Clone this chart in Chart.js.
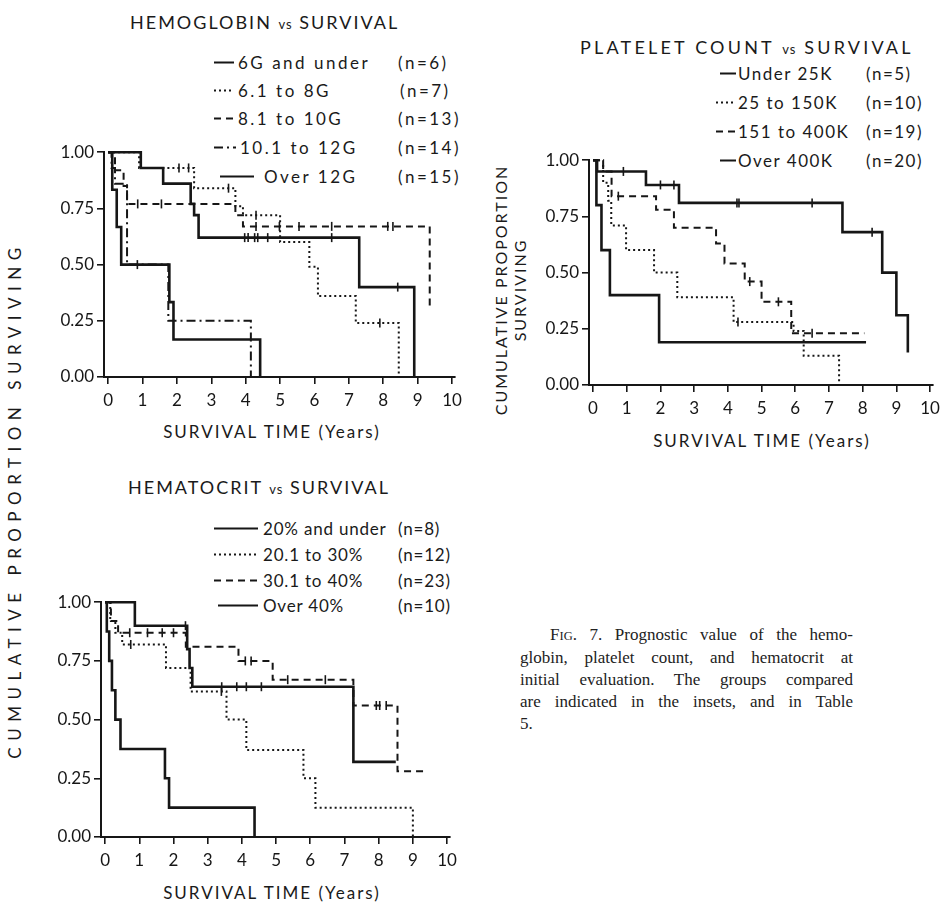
<!DOCTYPE html>
<html>
<head>
<meta charset="utf-8">
<title>Prognostic value of hemoglobin, platelet count and hematocrit</title>
<script src="https://cdn.jsdelivr.net/npm/chart.js@4.4.1/dist/chart.umd.min.js"></script>
<style>
    html, body { margin: 0; padding: 0; background: #fff; }
    body {
        position: relative; width: 946px; height: 905px; overflow: hidden;
        font-family: Lato, "Noto Sans", sans-serif; color: #1a1a1a;
    }
    .abs { position: absolute; white-space: nowrap; }
    .title { font-size: 18px; letter-spacing: 2px; transform: translateY(-50%); }
    .title small { font-size: 13px; letter-spacing: 1px; }
    .xtitle { position: absolute; white-space: nowrap; font-size: 17px; letter-spacing: 2px; transform: translate(-50%, -50%); }
    .leg { position: absolute; white-space: nowrap; font-size: 17px; letter-spacing: 1.5px; transform: translateY(-50%); }
    .leg svg { position: absolute; top: 50%; margin-top: -3px; }
    .chart-wrap { position: absolute; }
    .rot { position: absolute; white-space: nowrap; transform: translate(-50%, -50%) rotate(-90deg); font-size: 16px; letter-spacing: 2px; }
    .caption {
        position: absolute; left: 520px; top: 624px; width: 333px;
        font-family: "Liberation Serif", "DejaVu Serif", serif; font-size: 17px; line-height: 22px; color: #222;
    }
    .caption div { text-align: justify; text-align-last: justify; }
    .caption div.last { text-align-last: left; }
    .caption .sc { font-size: 12.5px; }
</style>
</head>
<body>

<div class="abs title" style="left:130px; top:22px;">HEMOGLOBIN <small>vs</small> SURVIVAL</div>
<div class="abs title" style="left:580px; top:47px; letter-spacing:3.2px;">PLATELET COUNT <small>vs</small> SURVIVAL</div>
<div class="abs title" style="left:128px; top:487px;">HEMATOCRIT <small>vs</small> SURVIVAL</div>

<div id="legends"></div>

<div class="rot" style="left:14px; top:500px; font-size:17px; letter-spacing:6.5px;">CUMULATIVE PROPORTION SURVIVING</div>
<div class="rot" style="left:500px; top:290px;">CUMULATIVE PROPORTION</div>
<div class="rot" style="left:519px; top:290px;">SURVIVING</div>

<div class="chart-wrap" style="left:54px; top:139px; width:414px; height:270px;"><canvas id="hgbChart"></canvas></div>
<div class="chart-wrap" style="left:539px; top:147px; width:407px; height:270px;"><canvas id="pltChart"></canvas></div>
<div class="chart-wrap" style="left:51px; top:589px; width:412px; height:280px;"><canvas id="hctChart"></canvas></div>

<div class="xtitle" style="left:272px; top:431px;">SURVIVAL TIME (Years)</div>
<div class="xtitle" style="left:762px; top:440px;">SURVIVAL TIME (Years)</div>
<div class="xtitle" style="left:272px; top:892px;">SURVIVAL TIME (Years)</div>

<div class="caption">
    <div style="padding-left:30px;">F<span class="sc">IG</span>. 7. Prognostic value of the hemo-</div>
    <div>globin, platelet count, and hematocrit at</div>
    <div>initial evaluation. The groups compared</div>
    <div>are indicated in the insets, and in Table</div>
    <div class="last">5.</div>
</div>

<script>
const INK = "#161616";
const FONT = "Lato, 'Noto Sans', sans-serif";

const SOLID = [];
const DOT = [2, 3];
const DASH = [7, 5];
const DASHDOT = [9, 4, 2, 4];

const X_TICKS = [0, 1, 2, 3, 4, 5, 6, 7, 8, 9, 10];
const Y_TICKS = [0, 0.25, 0.5, 0.75, 1];

// ── Hemoglobin (time in years, cumulative proportion surviving) ──
const hgbLabels = ["6G and under", "6.1 to 8G", "8.1 to 10G", "10.1 to 12G", "Over 12G"];
const hgbN = ["(n=6)", "(n=7)", "(n=13)", "(n=14)", "(n=15)"];
const hgb6G = [[0, 1], [0.12, 0.833], [0.25, 0.667], [0.38, 0.5], [1.78, 0.333], [1.9, 0.167], [4.42, 0]];
const hgb6GCens = [0.85];
const hgb8G = [[0, 1], [0.9, 0.93], [2.5, 0.84], [3.7, 0.76], [3.92, 0.72], [5.0, 0.6], [5.85, 0.49], [6.1, 0.36], [7.2, 0.24], [8.45, 0]];
const hgb8GCens = [2.06, 2.34, 3.5, 4.3, 7.9];
const hgb10G = [[0, 1], [0.2, 0.92], [0.45, 0.85], [0.55, 0.77], [3.7, 0.72], [3.92, 0.67], [9.35, 0.31]];
const hgb10GCens = [0.86, 1.55, 4.3, 4.98, 5.55, 6.5, 8.13, 8.28];
const hgb12G = [[0, 1], [0.1, 0.93], [0.2, 0.86], [0.55, 0.5], [1.75, 0.25], [4.15, 0]];
const hgb12GCens = [];
const hgbOver = [[0, 1], [0.95, 0.93], [1.6, 0.86], [2.4, 0.77], [2.5, 0.72], [2.63, 0.62], [7.3, 0.4], [8.9, 0]];
const hgbOverCens = [3.97, 4.07, 4.26, 4.35, 4.64, 6.5, 8.42];

// ── Platelet count ──
const pltLabels = ["Under 25K", "25 to 150K", "151 to 400K", "Over 400K"];
const pltN = ["(n=5)", "(n=10)", "(n=19)", "(n=20)"];
const pltU25 = [[0, 1], [0.1, 0.8], [0.25, 0.6], [0.5, 0.4], [1.96, 0.19], [8.1, 0.19]];
const pltU25Cens = [];
const plt150 = [[0, 1], [0.3, 0.9], [0.45, 0.82], [0.54, 0.71], [0.98, 0.6], [1.81, 0.5], [2.5, 0.39], [4.17, 0.28], [5.95, 0.24], [6.25, 0.13], [7.3, 0]];
const plt150Cens = [4.3];
const plt400 = [[0, 1], [0.3, 0.95], [0.55, 0.84], [1.87, 0.78], [2.4, 0.7], [3.65, 0.63], [3.9, 0.54], [4.5, 0.46], [5.0, 0.37], [5.88, 0.23], [8.05, 0.23]];
const plt400Cens = [0.75, 4.65, 5.5, 6.5];
const pltOver = [[0, 1], [0.12, 0.95], [1.57, 0.89], [2.55, 0.81], [7.4, 0.68], [8.58, 0.5], [9.0, 0.31], [9.34, 0.145]];
const pltOverCens = [0.9, 2.0, 2.4, 4.27, 4.33, 6.5, 8.28];

// ── Hematocrit ──
const hctLabels = ["20% and under", "20.1 to 30%", "30.1 to 40%", "Over 40%"];
const hctN = ["(n=8)", "(n=12)", "(n=23)", "(n=10)"];
const hct20 = [[0, 1], [0.05, 0.875], [0.12, 0.75], [0.2, 0.625], [0.3, 0.5], [0.45, 0.375], [1.75, 0.25], [1.87, 0.125], [4.37, 0]];
const hct20Cens = [];
const hct30 = [[0, 1], [0.15, 0.92], [0.3, 0.87], [0.5, 0.82], [1.78, 0.72], [2.5, 0.62], [3.55, 0.5], [4.13, 0.37], [5.8, 0.25], [6.15, 0.125], [9.0, 0]];
const hct30Cens = [0.75, 3.4];
const hct40 = [[0, 1], [0.17, 0.92], [0.38, 0.87], [2.36, 0.81], [3.9, 0.75], [4.9, 0.67], [7.26, 0.56], [8.55, 0.28], [9.33, 0.28]];
const hct40Cens = [0.72, 1.24, 1.67, 2.0, 4.1, 4.27, 5.34, 6.44, 7.93, 8.03, 8.22];
const hctOver = [[0, 1], [0.87, 0.9], [2.4, 0.8], [2.47, 0.72], [2.55, 0.64], [7.26, 0.32], [8.5, 0.32]];
const hctOverCens = [2.35, 3.41, 3.85, 4.13, 4.57];

// ── Helpers ──

function survAt(pts, t) {
    let s = pts[0][1];
    for (const [x, y] of pts) if (x <= t) s = y;
    return s;
}

function dashAttr(dash) {
    return dash.length ? dash.join(",") : "none";
}

function addLegend(labels, ns, dashes, rows, spacing) {
    const host = document.getElementById("legends");
    labels.forEach((label, i) => {
        const r = rows[i];
        const w = r.sample[1] - r.sample[0];
        const svg = `<svg width="${w}" height="6" style="left:${r.sample[0] - r.text}px">` +
            `<line x1="0" y1="3" x2="${w}" y2="3" stroke="${INK}" stroke-width="2" stroke-dasharray="${dashAttr(dashes[i])}"/></svg>`;
        const row = document.createElement("div");
        row.className = "leg";
        row.style.left = r.text + "px";
        row.style.top = r.y + "px";
        row.style.letterSpacing = spacing + "px";
        row.innerHTML = svg + `<span>${label}</span><span style="position:absolute; left:${r.n - r.text}px">${ns[i]}</span>`;
        host.appendChild(row);
    });
}

// Kaplan-Meier style step curves: horizontal at the old level, then drop
function kmChart(canvasId, curves, dashes, censors) {
    const datasets = [];
    curves.forEach((pts, i) => {
        datasets.push({
            data: pts.map(([x, y]) => ({ x, y })),
            stepped: "before",
            borderColor: INK,
            borderWidth: dashes[i].length ? 2 : 2.6,
            borderDash: dashes[i],
            pointRadius: 0,
            fill: false,
            clip: false,
        });
        if (censors[i].length) {
            datasets.push({
                data: censors[i].map((t) => ({ x: t, y: survAt(pts, t) })),
                showLine: false,
                pointStyle: "line",
                pointRotation: 90,
                pointRadius: 4.5,
                pointBorderWidth: 1.6,
                pointBorderColor: INK,
                clip: false,
            });
        }
    });

    const tickFont = { size: 17, family: FONT };
    const axisGrid = { drawOnChartArea: false, drawTicks: true, tickLength: 7, color: INK, lineWidth: 1.6 };
    const axisBorder = { display: true, color: INK, width: 2 };

    return new Chart(document.getElementById(canvasId), {
        type: "line",
        data: { datasets },
        options: {
            responsive: true,
            maintainAspectRatio: false,
            devicePixelRatio: 1,
            animation: false,
            events: [],
            layout: { padding: { top: 8, right: 8, left: 0, bottom: 0 } },
            plugins: { legend: { display: false }, tooltip: { enabled: false } },
            scales: {
                x: {
                    type: "linear",
                    bounds: "data",
                    min: -0.12,
                    max: 10.08,
                    afterBuildTicks: (axis) => { axis.ticks = X_TICKS.map((v) => ({ value: v })); },
                    ticks: { color: INK, font: tickFont, padding: 6, maxRotation: 0, autoSkip: false },
                    grid: axisGrid,
                    border: axisBorder,
                    afterFit: (axis) => { axis.height = 32; },
                },
                y: {
                    type: "linear",
                    min: 0,
                    max: 1,
                    afterBuildTicks: (axis) => { axis.ticks = Y_TICKS.map((v) => ({ value: v })); },
                    ticks: { color: INK, font: tickFont, padding: 3, callback: (v) => v.toFixed(2) },
                    grid: axisGrid,
                    border: axisBorder,
                    afterFit: (axis) => { axis.width = 50; },
                },
            },
        },
    });
}

// ── Build ──

const hgbDashes = [SOLID, DOT, DASH, DASHDOT, SOLID];
kmChart("hgbChart", [hgb6G, hgb8G, hgb10G, hgb12G, hgbOver], hgbDashes,
    [hgb6GCens, hgb8GCens, hgb10GCens, hgb12GCens, hgbOverCens]);
addLegend(hgbLabels, hgbN, hgbDashes, [
    { y: 62, sample: [214, 234], text: 238, n: 398 },
    { y: 90, sample: [214, 234], text: 238, n: 400 },
    { y: 118, sample: [214, 234], text: 238, n: 398 },
    { y: 147, sample: [214, 236], text: 240, n: 398 },
    { y: 176, sample: [220, 254], text: 264, n: 398 },
], 2.5);

const pltDashes = [SOLID, DOT, DASH, SOLID];
kmChart("pltChart", [pltU25, plt150, plt400, pltOver], pltDashes,
    [pltU25Cens, plt150Cens, plt400Cens, pltOverCens]);
addLegend(pltLabels, pltN, pltDashes, [
    { y: 73, sample: [720, 736], text: 738, n: 866 },
    { y: 102, sample: [716, 736], text: 738, n: 866 },
    { y: 131, sample: [716, 736], text: 738, n: 866 },
    { y: 160, sample: [720, 736], text: 738, n: 866 },
], 1.5);

const hctDashes = [SOLID, DOT, DASH, SOLID];
kmChart("hctChart", [hct20, hct30, hct40, hctOver], hctDashes,
    [hct20Cens, hct30Cens, hct40Cens, hctOverCens]);
addLegend(hctLabels, hctN, hctDashes, [
    { y: 528, sample: [214, 258], text: 263, n: 398 },
    { y: 554, sample: [214, 258], text: 263, n: 398 },
    { y: 580, sample: [214, 258], text: 263, n: 398 },
    { y: 605, sample: [218, 258], text: 263, n: 398 },
], 0.8);
</script>
</body>
</html>
